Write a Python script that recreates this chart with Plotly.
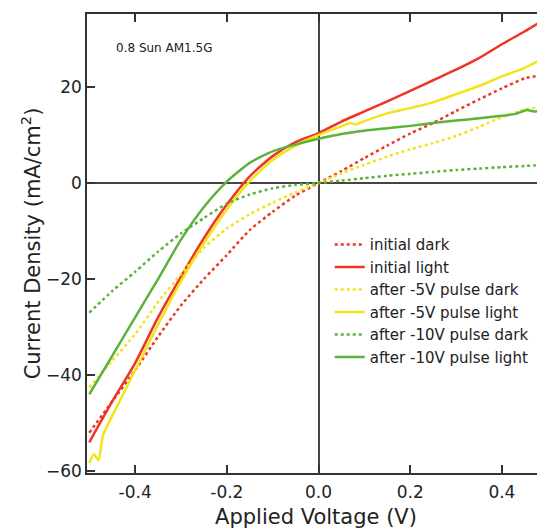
import plotly.graph_objects as go

# Applied voltage grid (V)
voltage = [-0.5, -0.45, -0.4, -0.35, -0.3, -0.25, -0.2, -0.15, -0.1, -0.05,
           0.0, 0.05, 0.1, 0.15, 0.2, 0.25, 0.3, 0.35, 0.4, 0.45, 0.5]

initial_dark = [-52, -45.5, -39, -32, -25.5, -20, -15, -9.8, -6, -2.6,
                0, 2.5, 5.2, 7.8, 10.3, 12.5, 15, 17.4, 19.7, 21.8, 22.6]
initial_light = [-54, -45.5, -37.5, -28, -19.5, -11.5, -4.5, 1.4, 5.6, 8.5,
                 10.4, 12.8, 14.9, 17.0, 19.2, 21.4, 23.6, 26.0, 28.9, 31.6, 34.5]

v5_dark = [-42.6, -37, -31.5, -24.8, -19, -13.5, -9.5, -6.5, -4.1, -1.9,
           0, 2.0, 3.8, 5.5, 7, 8.3, 9.8, 11.7, 13.7, 15.3, 16]
v5_light_v = [-0.5, -0.49, -0.48, -0.47, -0.45, -0.4, -0.35, -0.3, -0.25, -0.2,
              -0.15, -0.1, -0.05, 0.0, 0.05, 0.07, 0.08, 0.1, 0.15, 0.2, 0.25,
              0.3, 0.35, 0.4, 0.45, 0.5]
v5_light = [-58.3, -56.5, -57.7, -52.5, -48.5, -39, -29.5, -20.5, -12.5, -5.5,
            0.4, 4.8, 7.8, 10, 11.8, 12.5, 12.2, 12.9, 14.5, 15.6, 16.8,
            18.5, 20.2, 22.2, 24, 26.5]

v10_dark = [-27, -22.5, -18.5, -14.3, -10.5, -7.3, -4.3, -2.4, -1.1, -0.4,
            0, 0.5, 1.0, 1.5, 1.9, 2.3, 2.7, 3.0, 3.3, 3.55, 3.8]
v10_light_v = [-0.5, -0.45, -0.4, -0.35, -0.3, -0.25, -0.2, -0.15, -0.1, -0.05,
               0.0, 0.05, 0.1, 0.15, 0.2, 0.25, 0.3, 0.35, 0.4, 0.43, 0.455,
               0.47, 0.5]
v10_light = [-44, -36, -28, -20, -11.8, -5, 0.3, 4.2, 6.6, 8.0,
             9.2, 10.2, 10.9, 11.4, 11.9, 12.5, 13.0, 13.5, 14.0, 14.4, 15.2,
             14.9, 15.4]

RED = "#EE3524"
YEL = "#F2E41A"
GRN = "#5CB23A"
FONT = "DejaVu Sans"

fig = go.Figure()

def add(x, y, name, color, dash):
    fig.add_trace(go.Scatter(
        x=x, y=y, name=name, mode="lines",
        line=dict(color=color, width=2.5, dash=dash, shape="spline", smoothing=0.6),
    ))

add(voltage, initial_dark, "initial dark", RED, "dot")
add(voltage, initial_light, "initial light", RED, "solid")
add(voltage, v5_dark, "after -5V pulse dark", YEL, "dot")
add(v5_light_v, v5_light, "after -5V pulse light", YEL, "solid")
add(voltage, v10_dark, "after -10V pulse dark", GRN, "dot")
add(v10_light_v, v10_light, "after -10V pulse light", GRN, "solid")

axis_common = dict(
    showline=True, linecolor="#333333", linewidth=1.5,
    ticks="inside", ticklen=8, tickwidth=1.5, tickcolor="#333333",
    mirror="ticks", showgrid=False, automargin=False,
    zeroline=True, zerolinecolor="#444444", zerolinewidth=1.5,
    tickfont=dict(family=FONT, size=17, color="#222222"),
)

# The page places the figure 8px in from the top-left corner,
# so the figure is sized to fill the rest of the 545x529 window.
fig.update_layout(
    width=537, height=521,
    margin=dict(l=79, r=0, t=6, b=56),
    paper_bgcolor="white", plot_bgcolor="white",
    font=dict(family=FONT, color="#222222"),
    xaxis=dict(range=[-0.505, 0.494], tickvals=[-0.4, -0.2, 0.0, 0.2, 0.4],
               ticktext=["-0.4", "-0.2", "0.0", "0.2", "0.4"],
               ticklabelstandoff=3,
               title=dict(text="Applied Voltage (V)", font=dict(family=FONT, size=21), standoff=8),
               **axis_common),
    yaxis=dict(range=[-60.4, 35.2], tickvals=[-60, -40, -20, 0, 20],
               title=dict(text="Current Density (mA/cm<sup>2</sup>)", font=dict(family=FONT, size=21), standoff=0),
               **axis_common),
    legend=dict(x=0.530, y=0.533, xanchor="left", yanchor="top",
                bgcolor="rgba(0,0,0,0)", font=dict(family=FONT, size=15),
                tracegroupgap=0, itemwidth=30),
    showlegend=True,
)

fig.add_annotation(text="0.8 Sun AM1.5G", xref="paper", yref="paper",
                   x=0.06, y=0.926, xanchor="left", yanchor="middle",
                   showarrow=False, font=dict(family=FONT, size=12, color="#222222"))

fig.write_html("out.html")
